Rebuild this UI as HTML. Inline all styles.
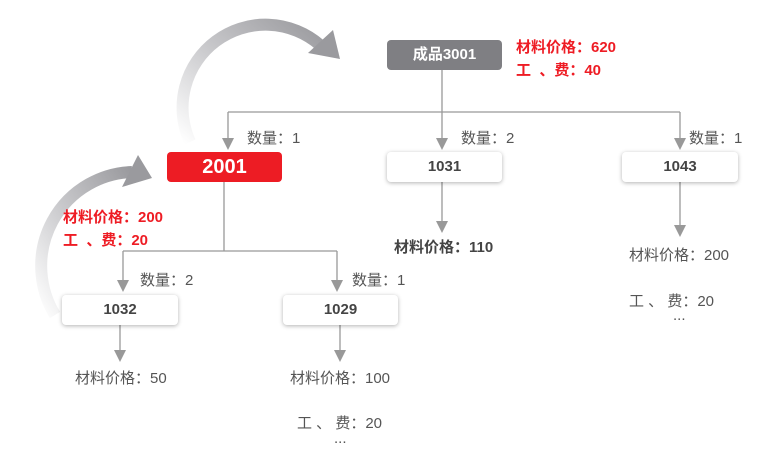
<!DOCTYPE html>
<html><head><meta charset="utf-8"><style>
body{margin:0;width:757px;height:453px;background:#fff;position:relative;overflow:hidden;font-family:"Liberation Sans","Noto Sans CJK SC",sans-serif;}
.a{position:absolute;white-space:nowrap;}
.box{position:absolute;height:30px;border-radius:4px;text-align:center;line-height:30px;font-weight:bold;font-size:15px;}
.w{background:#fff;color:#444;box-shadow:0 1px 4px rgba(0,0,0,0.3);}
.t{font-size:15px;color:#555;}
.r{font-size:15px;color:#ee1c24;font-weight:bold;line-height:23px;}
</style></head><body>
<svg width="757" height="453" style="position:absolute;left:0;top:0">
<defs>
<linearGradient id="g1" x1="0" y1="1" x2="1" y2="0"><stop offset="0" stop-color="#fff"/><stop offset="0.5" stop-color="#c8c8cb"/><stop offset="1" stop-color="#9a9a9e"/></linearGradient>
<linearGradient id="g2" x1="0" y1="1" x2="1" y2="0"><stop offset="0" stop-color="#fff"/><stop offset="0.5" stop-color="#c8c8cb"/><stop offset="1" stop-color="#9a9a9e"/></linearGradient>
</defs>
<path d="M190,142 A83,83 0 0 1 320,45" fill="none" stroke="url(#g1)" stroke-width="12"/>
<polygon points="333,30 340,59 308,53" fill="#9a9a9e"/>
<path d="M55,315 A94,94 0 0 1 132,172" fill="none" stroke="url(#g2)" stroke-width="12"/>
<polygon points="138,155 152,178 122,187" fill="#9a9a9e"/>
<g stroke="#999" stroke-width="1.3" fill="none">
<path d="M442,70V145M228,112H680M228,112V145M680,112V145"/>
<path d="M224,182V251M123,251H337M123,251V287M337,251V287"/>
<path d="M120,325V355M340,325V355M442,182V226M680,182V230"/>
</g>
<g fill="#999">
<polygon points="222,138 234,138 228,150"/><polygon points="436,138 448,138 442,150"/><polygon points="674,138 686,138 680,150"/>
<polygon points="117,280 129,280 123,292"/><polygon points="331,280 343,280 337,292"/>
<polygon points="114,350 126,350 120,362"/><polygon points="334,350 346,350 340,362"/>
<polygon points="436,221 448,221 442,233"/><polygon points="674,225 686,225 680,237"/>
</g>
</svg>
<div class="box" style="left:387px;top:40px;width:115px;background:#7f7f83;color:#fff;">成品3001</div>
<div class="a r" style="left:516px;top:36px;">材料价格：620<br>工&nbsp;&nbsp;、费：40</div>
<div class="box" style="left:167px;top:152px;width:115px;background:#ed1c24;color:#fff;font-size:20px;">2001</div>
<div class="box w" style="left:387px;top:152px;width:115px;">1031</div>
<div class="box w" style="left:622px;top:152px;width:116px;">1043</div>
<div class="a t" style="left:247px;top:127px;">数量：1</div>
<div class="a t" style="left:461px;top:127px;">数量：2</div>
<div class="a t" style="left:689px;top:127px;">数量：1</div>
<div class="a r" style="left:63px;top:206px;">材料价格：200<br>工&nbsp;&nbsp;、费：20</div>
<div class="a t" style="left:394px;top:236px;font-weight:bold;color:#444;">材料价格：110</div>
<div class="a t" style="left:629px;top:244px;">材料价格：200</div>
<div class="a t" style="left:629px;top:290px;">工 、 费：20</div>
<div class="a t" style="left:673px;top:307px;">...</div>
<div class="a t" style="left:140px;top:269px;">数量：2</div>
<div class="a t" style="left:352px;top:269px;">数量：1</div>
<div class="box w" style="left:62px;top:295px;width:116px;">1032</div>
<div class="box w" style="left:283px;top:295px;width:115px;">1029</div>
<div class="a t" style="left:75px;top:367px;">材料价格：50</div>
<div class="a t" style="left:290px;top:367px;">材料价格：100</div>
<div class="a t" style="left:297px;top:412px;">工 、 费：20</div>
<div class="a t" style="left:334px;top:430px;">...</div>
</body></html>
